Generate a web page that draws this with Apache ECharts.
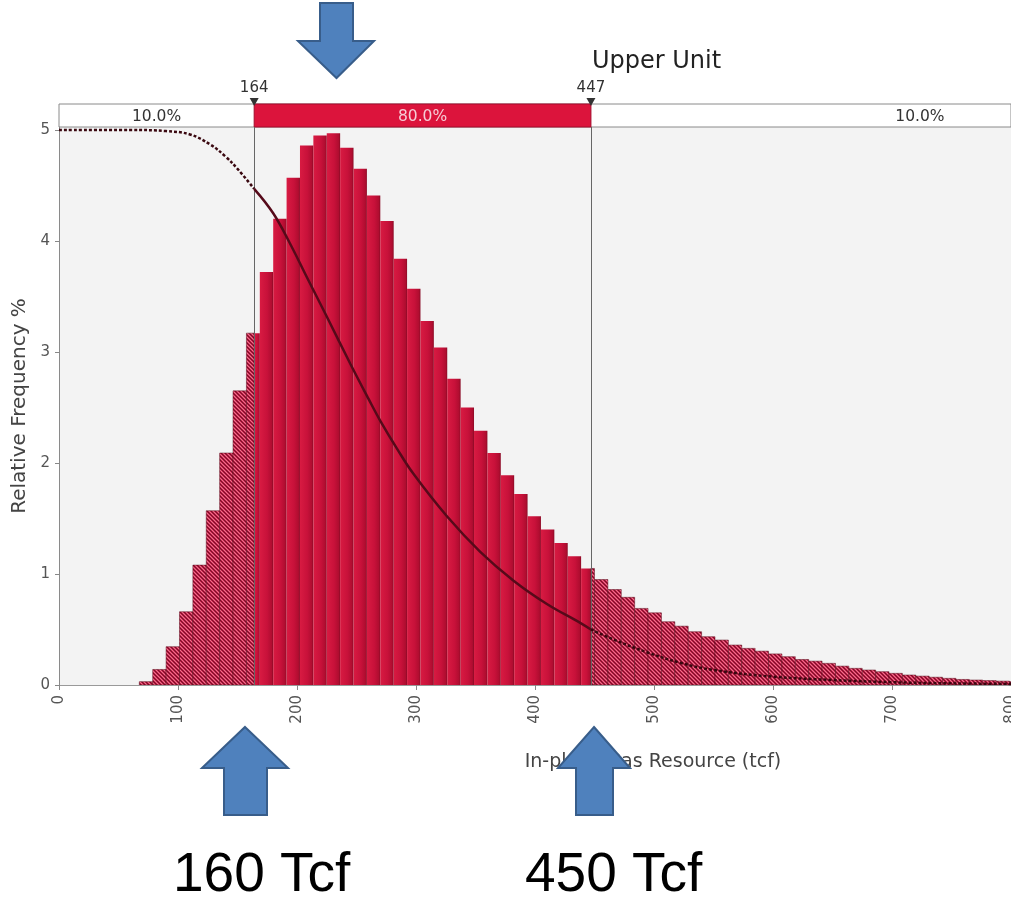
<!DOCTYPE html>
<html>
<head>
<meta charset="utf-8">
<script src="https://cdn.jsdelivr.net/npm/echarts@6/dist/echarts.min.js"></script>
<style>
html,body{margin:0;padding:0;background:#ffffff;}
#chart{width:1011px;height:900px;}
</style>
</head>
<body>
<div id="chart"></div>
<script>
// ---------------- data ----------------
const chartTitle = 'Upper Unit';
const xAxisName = 'In-place Gas Resource (tcf)';
const yAxisName = 'Relative Frequency %';
const xMin = 0, xMax = 800, xStep = 100;
const yTicks = [0, 1, 2, 3, 4, 5];

// histogram bins (tcf), relative frequency % per bin
const binWidth = 11.25;
const firstBinStart = 67.5;
const binFreq = [
  0.03, 0.14, 0.345, 0.66, 1.08, 1.57, 2.09, 2.65, 3.17, 3.72,
  4.20, 4.57, 4.86, 4.95, 4.97, 4.84, 4.65, 4.41, 4.18, 3.84,
  3.57, 3.28, 3.04, 2.76, 2.50, 2.29, 2.09, 1.89, 1.72, 1.52,
  1.40, 1.28, 1.16, 1.05, 0.95, 0.86, 0.79, 0.69, 0.65, 0.57,
  0.53, 0.48, 0.435, 0.405, 0.36, 0.33, 0.305, 0.28, 0.255, 0.23,
  0.215, 0.195, 0.17, 0.15, 0.135, 0.12, 0.105, 0.09, 0.08, 0.07,
  0.06, 0.05, 0.045, 0.04, 0.035, 0.03
];

// certainty range
const certLow = 164, certHigh = 447;
const bandEdges = [0, 164, 447, 1000];
const bandLabels = ['10.0%', '80.0%', '10.0%'];

// reverse cumulative curve (scaled to the frequency axis)
const curveX = [0, 60, 90, 110, 127, 140, 150, 164, 180, 194, 208, 225, 245, 260, 270, 284, 298, 326, 354, 382, 410, 438, 447, 466, 494, 522, 550, 600, 650, 700, 750, 800];
const curveY = [5.0, 5.0, 4.99, 4.96, 4.87, 4.76, 4.65, 4.47, 4.25, 3.98, 3.68, 3.32, 2.89, 2.58, 2.38, 2.13, 1.90, 1.52, 1.20, 0.94, 0.73, 0.56, 0.50, 0.41, 0.295, 0.20, 0.135, 0.075, 0.045, 0.025, 0.015, 0.01];

// annotations
const annoLabels = ['160 Tcf', '450 Tcf'];

// ---------------- build ----------------
const binData = binFreq.map((v, i) => {
  const a = firstBinStart + i * binWidth;
  return [a, a + binWidth, v];
});
const bandData = bandLabels.map((l, i) => [bandEdges[i], bandEdges[i + 1], i]);
const curveAll = curveX.map((x, i) => [x, curveY[i]]);
const curveLeft = curveAll.filter(p => p[0] <= certLow);
const curveMid = curveAll.filter(p => p[0] >= certLow && p[0] <= certHigh);
const curveRight = curveAll.filter(p => p[0] >= certHigh);

// hatch pattern
const hatch = document.createElement('canvas');
hatch.width = 4; hatch.height = 4;
(function () {
  const ctx = hatch.getContext('2d');
  const cols = ['#76102a', '#c8234a', '#ea7590', '#c8234a'];
  for (let y = 0; y < 4; y++) {
    for (let x = 0; x < 4; x++) {
      ctx.fillStyle = cols[((x - y) % 4 + 4) % 4];
      ctx.fillRect(x, y, 1, 1);
    }
  }
})();
const hatchFill = { image: hatch, repeat: 'repeat' };

const FONT = '"DejaVu Sans", Verdana, sans-serif';

function renderBins(params, api) {
  const a = api.value(0), b = api.value(1), v = api.value(2);
  const cs = params.coordSys;
  const segs = [];
  if (a < certLow) segs.push([a, Math.min(b, certLow), 'h']);
  if (b > certLow && a < certHigh) segs.push([Math.max(a, certLow), Math.min(b, certHigh), 's']);
  if (b > certHigh) segs.push([Math.max(a, certHigh), b, 'h']);
  const children = [];
  segs.forEach(s => {
    if (s[1] <= s[0]) return;
    const p0 = api.coord([s[0], v]);
    const p1 = api.coord([s[1], 0]);
    const shape = echarts.graphic.clipRectByRect(
      { x: p0[0], y: p0[1], width: p1[0] - p0[0], height: p1[1] - p0[1] },
      { x: cs.x, y: cs.y, width: cs.width, height: cs.height });
    if (!shape) return;
    if (s[2] === 'h') {
      children.push({ type: 'rect', shape: shape, style: { fill: hatchFill, stroke: '#5a0a1a', lineWidth: 0.5 } });
    } else {
      children.push({
        type: 'rect', shape: shape,
        style: {
          fill: new echarts.graphic.LinearGradient(0, 0, 1, 0, [
            { offset: 0, color: '#d81b42' },
            { offset: 0.55, color: '#c8113a' },
            { offset: 0.88, color: '#b00d30' },
            { offset: 1, color: '#8a0b26' }
          ])
        }
      });
    }
  });
  return { type: 'group', children: children };
}

function renderBand(params, api) {
  const a = api.value(0), b = api.value(1), i = api.value(2);
  const p0 = api.coord([a, 1]);
  const p1 = api.coord([b, 0]);
  const children = [];
  if (i === 1) {
    children.push({ type: 'rect', shape: { x: p0[0], y: p0[1], width: p1[0] - p0[0], height: p1[1] - p0[1] },
      style: { fill: '#dc143c', stroke: '#a30c2c', lineWidth: 1 } });
  }
  children.push({ type: 'text', x: (p0[0] + p1[0]) / 2, y: (p0[1] + p1[1]) / 2 + 1,
    style: { text: bandLabels[i], fill: i === 1 ? '#f6ccd6' : '#333333', font: '15.5px ' + FONT, align: 'center', verticalAlign: 'middle' } });
  return { type: 'group', children: children };
}

function renderMarks(params, api) {
  const v = api.value(0);
  const p = api.coord([v, 1]);
  return {
    type: 'group',
    children: [
      { type: 'polygon', shape: { points: [[p[0] - 4.5, p[1] - 6], [p[0] + 4.5, p[1] - 6], [p[0], p[1] + 2]] }, style: { fill: '#333' } },
      { type: 'text', x: p[0], y: p[1] - 16, style: { text: String(v), fill: '#333', font: '15px ' + FONT, align: 'center', verticalAlign: 'middle' } }
    ]
  };
}

const chart = echarts.init(document.getElementById('chart'), null, { renderer: 'canvas' });

const option = {
  animation: false,
  backgroundColor: '#ffffff',
  title: {
    text: chartTitle, left: 587, top: 45,
    textStyle: { fontFamily: FONT, fontSize: 24, fontWeight: 'normal', color: '#222' }
  },
  grid: [
    { left: 59, right: 0, top: 127, height: 558, show: true, backgroundColor: '#f3f3f3', borderWidth: 0,
      containLabel: false, outerBoundsMode: 'none' },
    { left: 59, right: 0, top: 104, height: 23, show: true, backgroundColor: '#ffffff', borderColor: '#8a8a8a', borderWidth: 1,
      containLabel: false, outerBoundsMode: 'none' }
  ],
  xAxis: [
    {
      gridIndex: 0, type: 'value', min: xMin, max: xMax, interval: xStep,
      name: xAxisName, nameLocation: 'middle', nameGap: 68,
      nameTextStyle: { fontFamily: FONT, fontSize: 19, color: '#444', padding: [0, 0, 0, 236] },
      axisLine: { show: true, lineStyle: { color: '#999', width: 1 } },
      axisTick: { show: true, length: 5, lineStyle: { color: '#888' } },
      axisLabel: { rotate: 90, margin: 10, fontFamily: FONT, fontSize: 15, color: '#555' },
      splitLine: { show: false }
    },
    { gridIndex: 1, type: 'value', min: xMin, max: xMax, show: false }
  ],
  yAxis: [
    {
      gridIndex: 0, type: 'value', min: 0, max: 5.027,
      name: yAxisName, nameLocation: 'middle', nameGap: 26,
      nameTextStyle: { fontFamily: FONT, fontSize: 20, color: '#444' },
      axisLine: { show: true, lineStyle: { color: '#8a8a8a', width: 1 } },
      axisTick: { show: true, length: 4, customValues: yTicks, lineStyle: { color: '#888' } },
      axisLabel: { customValues: yTicks, margin: 9, fontFamily: FONT, fontSize: 15, color: '#555' },
      splitLine: { show: false }
    },
    { gridIndex: 1, type: 'value', min: 0, max: 1, show: false }
  ],
  series: [
    {
      type: 'custom', name: 'bins', xAxisIndex: 0, yAxisIndex: 0,
      renderItem: renderBins, data: binData, encode: { x: [0, 1], y: 2 }, clip: true, z: 2,
      markLine: {
        silent: true, symbol: 'none', label: { show: false },
        lineStyle: { color: '#666', width: 1, type: 'solid' },
        data: [{ xAxis: certLow }, { xAxis: certHigh }]
      }
    },
    {
      type: 'line', name: 'left', xAxisIndex: 0, yAxisIndex: 0, data: curveLeft, smooth: 0.4,
      showSymbol: false, lineStyle: { color: '#3a0810', width: 2.5, type: [3, 2] }, z: 5
    },
    {
      type: 'line', name: 'mid', xAxisIndex: 0, yAxisIndex: 0, data: curveMid, smooth: 0.4,
      showSymbol: false, lineStyle: { color: '#560a1a', width: 2.5 }, z: 5
    },
    {
      type: 'line', name: 'right', xAxisIndex: 0, yAxisIndex: 0, data: curveRight, smooth: 0.4,
      showSymbol: false, lineStyle: { color: '#3a0810', width: 2.5, type: [3, 2] }, z: 5
    },
    {
      type: 'custom', name: 'band', xAxisIndex: 1, yAxisIndex: 1,
      renderItem: renderBand, data: bandData, encode: { x: [0, 1] }, clip: false, z: 3
    },
    {
      type: 'custom', name: 'marks', xAxisIndex: 1, yAxisIndex: 1,
      renderItem: renderMarks, data: [[certLow], [certHigh]], encode: { x: 0 }, clip: false, z: 4
    }
  ],
  graphic: [
    { type: 'polygon', z: 100, shape: { points: [[320, 3], [353, 3], [353, 41], [374, 41], [336.5, 78], [298, 41], [320, 41]] },
      style: { fill: '#4f81bd', stroke: '#385d8a', lineWidth: 2 } },
    { type: 'polygon', z: 100, shape: { points: [[245, 727], [288, 768], [267, 768], [267, 815], [224, 815], [224, 768], [202, 768]] },
      style: { fill: '#4f81bd', stroke: '#385d8a', lineWidth: 2 } },
    { type: 'polygon', z: 100, shape: { points: [[594, 727], [630, 768], [613, 768], [613, 815], [576, 815], [576, 768], [558, 768]] },
      style: { fill: '#4f81bd', stroke: '#385d8a', lineWidth: 2 } },
    { type: 'text', z: 100, left: 173, top: 848, style: { text: annoLabels[0], fill: '#000', font: '55px "Liberation Sans", Arial, sans-serif' } },
    { type: 'text', z: 100, left: 525, top: 848, style: { text: annoLabels[1], fill: '#000', font: '55px "Liberation Sans", Arial, sans-serif' } }
  ]
};

chart.setOption(option);
</script>
</body>
</html>
